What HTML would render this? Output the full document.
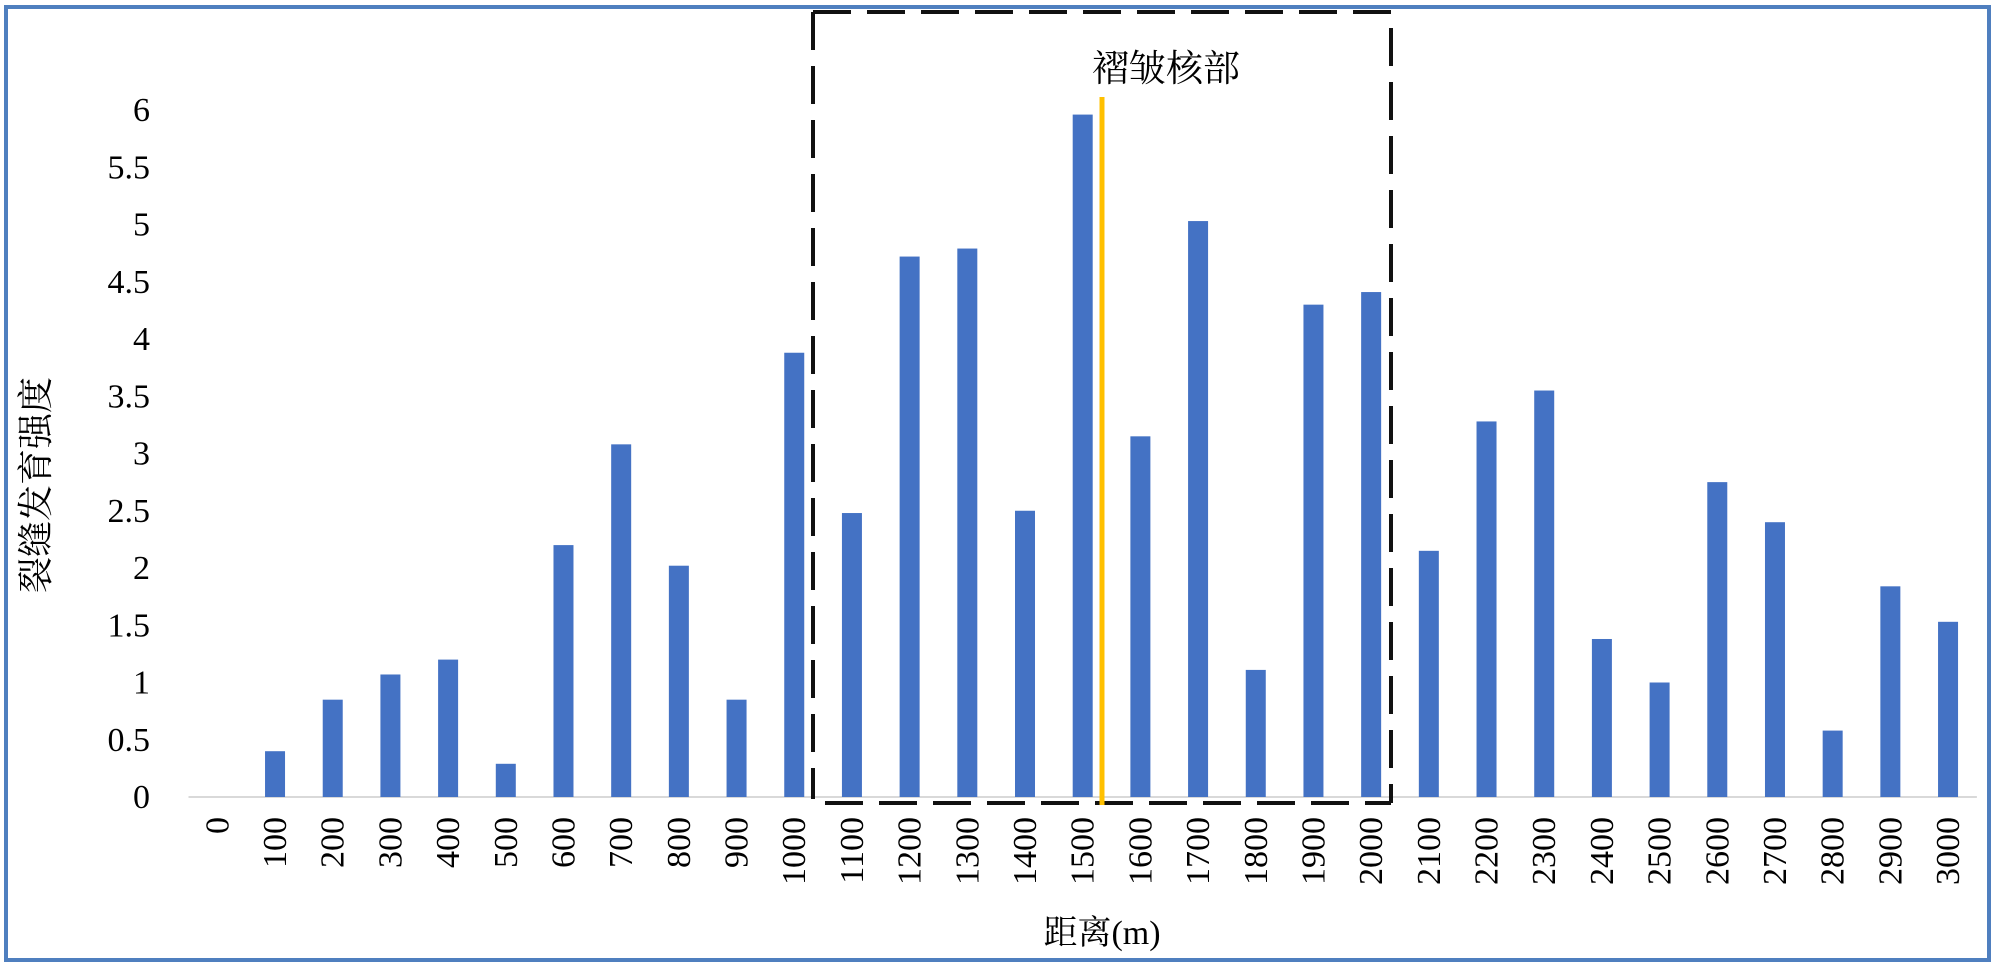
<!DOCTYPE html>
<html><head><meta charset="utf-8"><style>
html,body{margin:0;padding:0;background:#fff;}
svg{display:block;}
text{font-family:"Liberation Serif","Noto Serif CJK SC",serif;fill:#000;}
</style></head><body>
<svg id="chart" width="2000" height="968" viewBox="0 0 2000 968" xmlns="http://www.w3.org/2000/svg">
<rect x="6" y="7" width="1983" height="953" fill="#fff" stroke="#4f7fbf" stroke-width="4"/>
<g id="yticks"></g>
<g id="xticks"></g>
<line id="xaxis" stroke="#d9d9d9" stroke-width="2"/>
<g id="bars"></g>
<g stroke="#111" stroke-width="4" fill="none" stroke-dasharray="38 16">
<line x1="813" y1="12" x2="1391" y2="12"/>
<line x1="813" y1="12" x2="813" y2="799"/>
<line x1="1391" y1="28" x2="1391" y2="803"/>
<line x1="825" y1="803" x2="1391" y2="803"/>
</g>
<line x1="1102" y1="97" x2="1102" y2="805" stroke="#ffc000" stroke-width="5"/>
<text x="1092" y="81" font-size="37">褶皱核部</text>
<text transform="translate(48,485) rotate(-90)" text-anchor="middle" font-size="36">裂缝发育强度</text>
<text x="1102" y="944" text-anchor="middle" font-size="34">距离(m)</text>
</svg>
<script>
const categories = [0,100,200,300,400,500,600,700,800,900,1000,1100,1200,1300,1400,1500,1600,1700,1800,1900,2000,2100,2200,2300,2400,2500,2600,2700,2800,2900,3000];
const values = [0,0.40,0.85,1.07,1.20,0.29,2.20,3.08,2.02,0.85,3.88,2.48,4.72,4.79,2.50,5.96,3.15,5.03,1.11,4.30,4.41,2.15,3.28,3.55,1.38,1.00,2.75,2.40,0.58,1.84,1.53];
const yTicks = [0,0.5,1,1.5,2,2.5,3,3.5,4,4.5,5,5.5,6];

const NS = 'http://www.w3.org/2000/svg';
const x0 = 188.5, band = 57.69, y0 = 797, yTop = 110, yMax = 6;
const xCenter = i => x0 + band * (i + 0.5);
const yScale = v => y0 - (y0 - yTop) * v / yMax;

const ax = document.getElementById('xaxis');
ax.setAttribute('x1', x0); ax.setAttribute('x2', x0 + band * categories.length);
ax.setAttribute('y1', y0); ax.setAttribute('y2', y0);

const yg = document.getElementById('yticks');
yTicks.forEach(t => {
  const el = document.createElementNS(NS, 'text');
  
  
  el.setAttribute('x', 150); el.setAttribute('y', yScale(t) + 11);
  el.setAttribute('text-anchor', 'end'); el.setAttribute('font-size', '34');
  el.textContent = t; yg.appendChild(el);
});

const xg = document.getElementById('xticks');
const bg = document.getElementById('bars');
categories.forEach((c, i) => {
  const cx = xCenter(i);
  const el = document.createElementNS(NS, 'text');
  
  
  el.setAttribute('transform', `translate(${cx + 11},817) rotate(-90)`);
  el.setAttribute('text-anchor', 'end'); el.setAttribute('font-size', '34');
  el.textContent = c; xg.appendChild(el);
  const v = values[i];
  if (v > 0) {
    const r = document.createElementNS(NS, 'rect');
    
    
    r.setAttribute('x', cx - 10); r.setAttribute('width', 20);
    r.setAttribute('y', yScale(v)); r.setAttribute('height', y0 - yScale(v));
    r.setAttribute('fill', '#4472c4'); bg.appendChild(r);
  }
});
</script>
</body></html>
